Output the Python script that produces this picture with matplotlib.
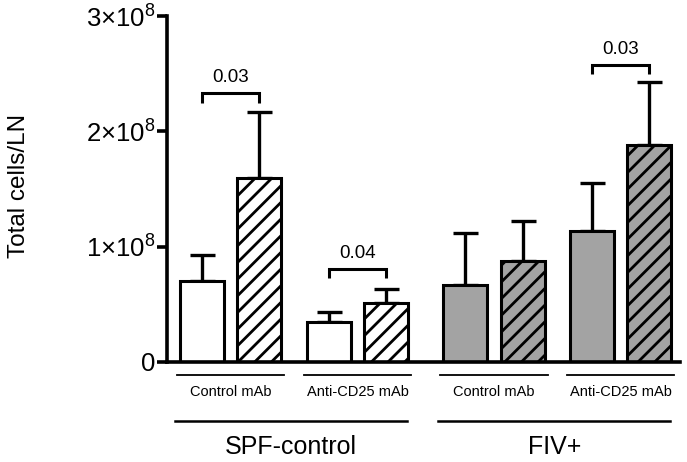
import matplotlib
matplotlib.use("Agg")
from matplotlib import pyplot as plt
import numpy as np

plt.rcParams['font.family'] = ['Liberation Sans', 'DejaVu Sans']
plt.rcParams['mathtext.fontset'] = 'custom'
plt.rcParams['mathtext.rm'] = 'Liberation Sans'
plt.rcParams['hatch.linewidth'] = 2.0

# values in units of 1e8 cells
means = [0.70, 1.60, 0.35, 0.51, 0.67, 0.88, 1.14, 1.88]
errs = [0.23, 0.57, 0.08, 0.12, 0.45, 0.34, 0.41, 0.55]
fills = ['white', 'white', 'white', 'white', '#a3a3a3', '#a3a3a3', '#a3a3a3', '#a3a3a3']
hatches = ['', '//', '', '//', '', '//', '', '//']
sub_labels = ["Control mAb", "Anti-CD25 mAb", "Control mAb", "Anti-CD25 mAb"]
group_labels = ["SPF-control", "FIV+"]
yticks = [0, 1, 2, 3]
ytick_labels = ['0', r'$\mathregular{1{\times}10^8}$', r'$\mathregular{2{\times}10^8}$',
                r'$\mathregular{3{\times}10^8}$']
# p-value brackets: (left bar, right bar, height, label)
brackets = [(0, 1, 2.33, "0.03"), (2, 3, 0.81, "0.04"), (6, 7, 2.58, "0.03")]

pair_left = [0.8, 3.68, 6.78, 9.66]
xs = []
for p in pair_left:
    xs += [p, p + 1.3]
xs = np.array(xs)
scale = 1e8

fig = plt.figure(figsize=(6.87, 4.62), dpi=100)
ax = fig.add_axes([0.243, 0.2165, 0.747, 0.7485])

ax.errorbar(xs, np.array(means) * scale,
            yerr=[np.zeros(len(errs)), np.array(errs) * scale],
            fmt='none', ecolor='black', elinewidth=2.4, capsize=9, capthick=2.4, zorder=1)
for x, m, c, h in zip(xs, means, fills, hatches):
    ax.bar(x, m * scale, width=1.0, color=c, edgecolor='black', hatch=h,
           linewidth=2.2, zorder=2)

for i, j, h, lab in brackets:
    yb = h * scale
    d = 0.08 * scale
    ax.plot([xs[i], xs[i], xs[j], xs[j]], [yb - d, yb, yb, yb - d], color='black',
            lw=2.2, solid_capstyle='butt', solid_joinstyle='miter')
    ax.text((xs[i] + xs[j]) / 2, yb + 0.06 * scale, lab, ha='center', va='bottom', fontsize=13.5)

ax.set_xlim(0, 11.66)
ax.set_ylim(0, 3 * scale)
ax.set_yticks([t * scale for t in yticks])
ax.set_yticklabels(ytick_labels, fontsize=18.5)
ax.set_xticks([])
ax.spines['top'].set_visible(False)
ax.spines['right'].set_visible(False)
ax.spines['left'].set_linewidth(2.6)
ax.spines['bottom'].set_linewidth(2.6)
ax.tick_params(axis='y', length=7, width=2.6, pad=1)

ax.set_ylabel("Total cells/LN", fontsize=17.5)
ax.yaxis.set_label_coords(-0.267, 0.51)

tr = ax.get_xaxis_transform()
for k, p in enumerate(pair_left):
    a, b = p - 0.57, p + 1.87
    ax.plot([a, b], [-0.0376, -0.0376], color='black', lw=1.3, transform=tr, clip_on=False)
    ax.text((a + b) / 2, -0.087, sub_labels[k], ha='center', va='center', fontsize=10.5,
            transform=tr)
for g in range(2):
    a, b = pair_left[2 * g] - 0.62, pair_left[2 * g + 1] + 1.78
    ax.plot([a, b], [-0.17, -0.17], color='black', lw=1.8, transform=tr, clip_on=False)
    ax.text((a + b) / 2, -0.246, group_labels[g], ha='center', va='center', fontsize=18,
            transform=tr)

plt.savefig("out.png", dpi=100)
